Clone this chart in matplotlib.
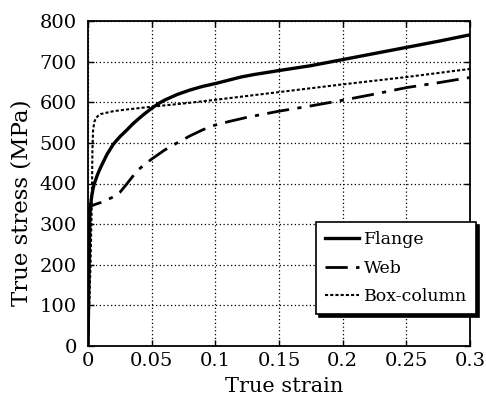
import matplotlib.pyplot as plt

# true strain / true stress (MPa)
flange_strain = [0, 0.0015, 0.002, 0.003, 0.004, 0.005, 0.0075, 0.01, 0.015,
                 0.02, 0.025, 0.03, 0.035, 0.04, 0.045, 0.05, 0.055, 0.06,
                 0.07, 0.08, 0.09, 0.1, 0.11, 0.12, 0.13, 0.14, 0.15, 0.175,
                 0.2, 0.225, 0.25, 0.275, 0.3]
flange_stress = [0, 320, 345, 370, 387, 400, 422, 440, 472,
                 497, 515, 530, 546, 560, 573, 585, 596, 605,
                 619, 630, 639, 646, 654, 662, 668, 673, 678, 690,
                 705, 720, 735, 750, 766]

web_strain = [0, 0.0012, 0.003, 0.006, 0.01, 0.015, 0.02, 0.025, 0.03,
              0.035, 0.04, 0.045, 0.05, 0.06, 0.07, 0.08, 0.09, 0.1, 0.11,
              0.125, 0.15, 0.175, 0.2, 0.225, 0.25, 0.275, 0.3]
web_stress = [0, 340, 345, 349, 353, 360, 367, 378, 397,
              417, 435, 448, 460, 482, 500, 517, 532, 544, 552,
              563, 578, 591, 605, 620, 636, 648, 661]

box_strain = [0, 0.002, 0.003, 0.0035, 0.004, 0.005, 0.0065, 0.0085, 0.01,
              0.02, 0.03, 0.05, 0.075, 0.1, 0.15, 0.2, 0.25, 0.3]
box_stress = [0, 200, 350, 480, 530, 552, 562, 568, 571,
              578, 582, 589, 597, 606, 625, 644, 662, 682]

xticks = [0, 0.05, 0.1, 0.15, 0.2, 0.25, 0.3]
xticklabels = ['0', '0.05', '0.1', '0.15', '0.2', '0.25', '0.3']
yticks = [0, 100, 200, 300, 400, 500, 600, 700, 800]

plt.rcParams['font.family'] = ['DejaVu Serif']

fig = plt.figure(figsize=(4.86, 4.0), dpi=100)
ax = fig.add_axes([0.181, 0.135, 0.786, 0.8125])

ax.plot(flange_strain, flange_stress, color='black', lw=2.4, label='Flange')
ax.plot(web_strain, web_stress, color='black', lw=2.0,
        dashes=(8, 3, 1.5, 3), label='Web')
ax.plot(box_strain, box_stress, color='black', lw=1.5,
        dashes=(1.5, 1), label='Box-column')

ax.set_xlim(0, 0.3)
ax.set_ylim(0, 800)
ax.set_xticks(xticks)
ax.set_xticklabels(xticklabels)
ax.set_yticks(yticks)
ax.tick_params(direction='in', top=True, right=True, length=4, width=1,
               labelsize=14)
ax.tick_params(axis='x', pad=4)
ax.tick_params(axis='y', pad=8)
for s in ax.spines.values():
    s.set_linewidth(1.3)

ax.grid(True, color='black', linestyle=(0, (1, 2)), linewidth=0.9)

ax.set_xlabel('True strain', fontsize=15)
ax.set_ylabel('True stress (MPa)', fontsize=16.5)
ax.xaxis.set_label_coords(0.513, -0.095)
ax.yaxis.set_label_coords(-0.145, 0.44)

leg = ax.legend(loc='lower right', bbox_to_anchor=(1.016, 0.098),
                fontsize=12.5, frameon=True, fancybox=False,
                shadow={'color': 'black', 'alpha': 1},
                handlelength=1.95, borderpad=0.5, labelspacing=0.68,
                handletextpad=0.3, borderaxespad=0)
leg.get_frame().set_edgecolor('black')
leg.get_frame().set_linewidth(1.2)
leg.get_frame().set_alpha(1)

fig.savefig('out.png', dpi=100)
